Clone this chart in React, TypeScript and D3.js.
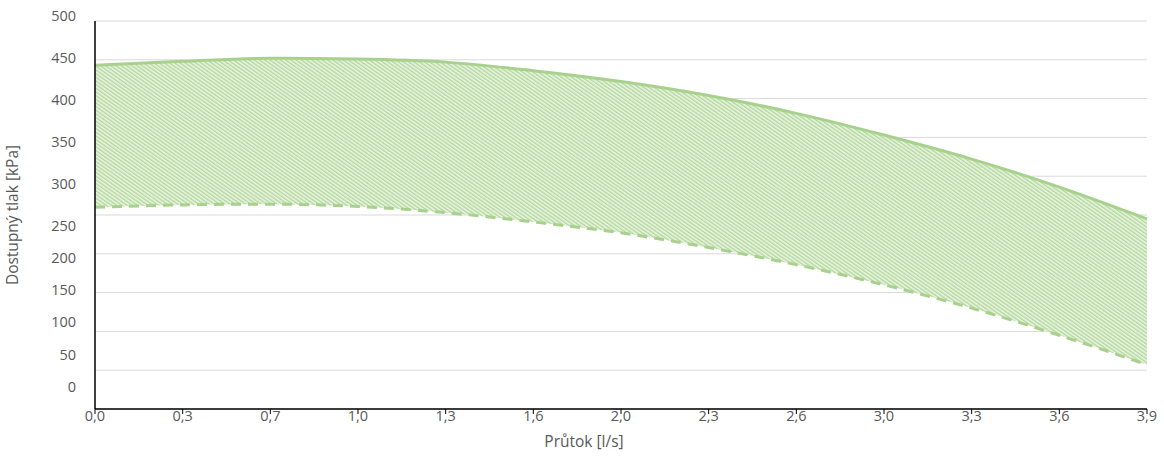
import React from "react";
import * as d3 from "d3";

const xLabels = ["0,0", "0,3", "0,7", "1,0", "1,3", "1,6", "2,0", "2,3", "2,6", "3,0", "3,3", "3,6", "3,9"];
const upperValues = [443, 448, 452, 451, 447, 436, 422, 404, 381, 353, 322, 286, 245];
const lowerValues = [260, 263, 264, 261, 253, 241, 227, 208, 186, 160, 130, 95, 57];
const yTickValues = [0, 50, 100, 150, 200, 250, 300, 350, 400, 450, 500];

const W = 1164, H = 459;
const left = 95, right = 1147, top = 21, bottom = 409;
const green = "#a9d18e";
const textColor = "#595959";
const font = "'Open Sans', 'Liberation Sans', sans-serif";

export default function App() {
  const x = d3.scalePoint<string>().domain(xLabels).range([left, right]);
  const y = d3.scaleLinear().domain([0, 500]).range([bottom, top]);
  // tick label placement in the reference is not aligned to gridlines
  const yLabel = d3.scaleLinear().domain([0, 150, 250, 500]).range([388, 291, 227, 17]);

  const pts = xLabels.map((l, i) => ({ x: x(l)!, hi: upperValues[i], lo: lowerValues[i] }));
  const area = d3.area<any>().x(d => d.x).y0(d => y(d.lo)).y1(d => y(d.hi)).curve(d3.curveMonotoneX);
  const lineHi = d3.line<any>().x(d => d.x).y(d => y(d.hi)).curve(d3.curveMonotoneX);
  const lineLo = d3.line<any>().x(d => d.x).y(d => y(d.lo)).curve(d3.curveMonotoneX);

  return (
    <svg width={W} height={H} style={{ position: "absolute", left: 0, top: 0 }} fontFamily={font}>
      <defs>
        <pattern id="hatch" patternUnits="userSpaceOnUse" width="3" height="3" patternTransform="rotate(-55)">
          <rect width="3" height="3" fill="#e9f4e2" />
          <rect width="1.4" height="3" fill="#b3d79c" />
        </pattern>
      </defs>
      <rect width={W} height={H} fill="#fff" />
      {yTickValues.map(v => (
        <line key={"g" + v} x1={left} x2={right} y1={y(v)} y2={y(v)} stroke="#d9d9d9" strokeWidth={1} />
      ))}
      <path d={area(pts)!} fill="url(#hatch)" />
      <path d={lineHi(pts)!} fill="none" stroke={green} strokeWidth={3} />
      <path d={lineLo(pts)!} fill="none" stroke={green} strokeWidth={3} strokeDasharray="10 7" />
      <line x1={left} x2={left} y1={top} y2={bottom} stroke="#000" strokeWidth={1.5} />
      <line x1={left} x2={right} y1={bottom} y2={bottom} stroke="#000" strokeWidth={1.5} />
      {xLabels.map(l => (
        <g key={l}>
          <line x1={x(l)} x2={x(l)} y1={bottom} y2={bottom + 5} stroke="#000" strokeWidth={1} />
          <text x={x(l)} y={417} textAnchor="middle" dominantBaseline="middle" fontSize={14.5} fill={textColor}>{l}</text>
        </g>
      ))}
      {yTickValues.map(v => (
        <text key={"t" + v} x={76} y={yLabel(v)} textAnchor="end" dominantBaseline="middle" fontSize={14.5} fill={textColor}>{v}</text>
      ))}
      <text x={584} y={443} textAnchor="middle" dominantBaseline="middle" fontSize={15.5} fill={textColor}>Průtok [l/s]</text>
      <text transform={`translate(14,215) rotate(-90)`} textAnchor="middle" dominantBaseline="middle" fontSize={15.5} fill={textColor}>Dostupný tlak [kPa]</text>
    </svg>
  );
}
